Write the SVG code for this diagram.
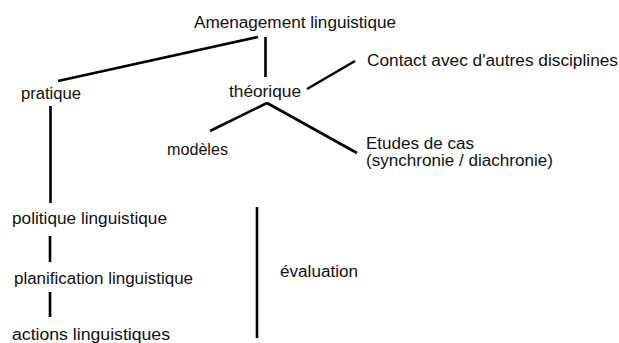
<svg xmlns="http://www.w3.org/2000/svg" width="619" height="343" viewBox="0 0 619 343">
<style>
text{font-family:"Liberation Sans",Arial,Helvetica,sans-serif;font-size:16px;fill:#111}
.c{stroke:#000;stroke-width:2.6;fill:none;stroke-linecap:butt}
</style>
<rect width="619" height="343" fill="#fff"/>
<g id="connectors" class="c">
<line x1="258" y1="37" x2="58" y2="81"/>
<line x1="265.5" y1="37" x2="265.5" y2="77"/>
<line x1="307" y1="89" x2="355" y2="61"/>
<line x1="210" y1="131" x2="267" y2="103"/>
<line x1="267" y1="103" x2="357" y2="153"/>
<line x1="50.5" y1="106" x2="50.5" y2="203"/>
<line x1="50" y1="236" x2="50" y2="262"/>
<line x1="50" y1="292" x2="50" y2="317"/>
<line x1="257" y1="207" x2="257" y2="338"/>
</g>
<g id="amenagement"><text x="194" y="28" textLength="202" lengthAdjust="spacingAndGlyphs">Amenagement linguistique</text></g>
<g id="pratique"><text x="21" y="99" textLength="60" lengthAdjust="spacingAndGlyphs">pratique</text></g>
<g id="theorique"><text x="229" y="97" textLength="72" lengthAdjust="spacingAndGlyphs">théorique</text></g>
<g id="contact"><text x="367" y="66" textLength="251" lengthAdjust="spacingAndGlyphs">Contact avec d'autres disciplines</text></g>
<g id="modeles"><text x="167" y="155" textLength="61" lengthAdjust="spacingAndGlyphs">modèles</text></g>
<g id="etudes"><text x="366" y="149" textLength="108" lengthAdjust="spacingAndGlyphs">Etudes de cas</text><text x="366" y="166" textLength="187" lengthAdjust="spacingAndGlyphs">(synchronie / diachronie)</text></g>
<g id="politique"><text x="12" y="224" textLength="155" lengthAdjust="spacingAndGlyphs">politique linguistique</text></g>
<g id="planification"><text x="14" y="284" textLength="179" lengthAdjust="spacingAndGlyphs">planification linguistique</text></g>
<g id="actions"><text x="12" y="340" textLength="158" lengthAdjust="spacingAndGlyphs">actions linguistiques</text></g>
<g id="evaluation"><text x="280" y="277" textLength="78" lengthAdjust="spacingAndGlyphs">évaluation</text></g>
</svg>
